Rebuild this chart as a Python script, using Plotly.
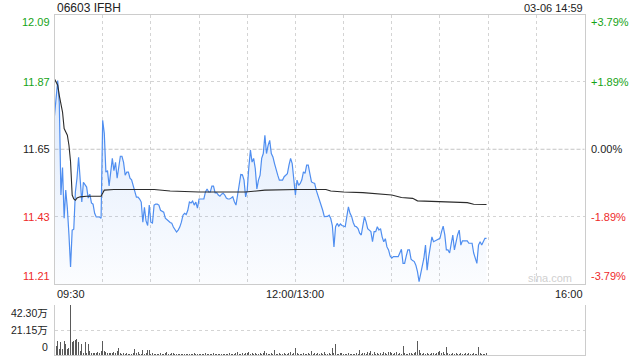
import plotly.graph_objects as go

W, H = 640, 360

# ---------------- data ----------------
title_text = "06603 IFBH"
stamp_text = "03-06 14:59"
prev_close = 11.65
max_pct = 3.79

price_tick_labels = ["12.09", "11.87", "11.65", "11.43", "11.21"]
pct_tick_labels = ["+3.79%", "+1.89%", "0.00%", "-1.89%", "-3.79%"]
pct_tick_values = [3.79, 1.895, 0.0, -1.895, -3.79]
time_tick_labels = ["09:30", "12:00/13:00", "16:00"]
time_tick_minutes = [0, 150, 330]
session_minutes = 330
vol_tick_labels = ["42.30万", "21.15万", "0"]
vol_tick_values = [42.30, 21.15, 0.0]

# one price per trading minute from 09:30 (minute 0) to 14:59 (minute 269)
price = [
    11.76, 11.83, 11.875, 11.80, 11.50, 11.59, 11.424, 11.516, 11.457, 11.37,
    11.264, 11.385, 11.388, 11.51, 11.555, 11.624, 11.542, 11.477, 11.542, 11.532,
    11.526, 11.49, 11.503, 11.474, 11.47, 11.44, 11.428, 11.428, 11.428, 11.424,
    11.745, 11.702, 11.575, 11.58, 11.53, 11.575, 11.62, 11.58, 11.607, 11.555,
    11.60, 11.627, 11.627, 11.607, 11.565, 11.575, 11.575, 11.555, 11.55, 11.53,
    11.505, 11.493, 11.493, 11.487, 11.477, 11.411, 11.46, 11.415, 11.40, 11.467,
    11.411, 11.408, 11.467, 11.47, 11.47, 11.467, 11.45, 11.447, 11.444, 11.424,
    11.418, 11.415, 11.41, 11.408, 11.395, 11.385, 11.379, 11.385, 11.395, 11.411,
    11.434, 11.44, 11.436, 11.45, 11.477, 11.474, 11.48, 11.467, 11.477, 11.457,
    11.487, 11.487, 11.487, 11.487, 11.51, 11.52, 11.51, 11.51, 11.529, 11.529,
    11.507, 11.508, 11.50, 11.496, 11.503, 11.506, 11.50, 11.49, 11.487, 11.487,
    11.49, 11.494, 11.478, 11.467, 11.50, 11.539, 11.567, 11.566, 11.549, 11.494,
    11.516, 11.592, 11.647, 11.608, 11.62, 11.587, 11.52, 11.549, 11.565, 11.62,
    11.636, 11.696, 11.636, 11.663, 11.679, 11.636, 11.625, 11.603, 11.58, 11.565,
    11.549, 11.549, 11.549, 11.56, 11.565, 11.57, 11.598, 11.62, 11.603, 11.538,
    11.50, 11.549, 11.532, 11.538, 11.55, 11.576, 11.571, 11.598, 11.598, 11.57,
    11.543, 11.54, 11.538, 11.515, 11.50, 11.485, 11.47, 11.45, 11.429, 11.429,
    11.43, 11.434, 11.423, 11.40, 11.33, 11.396, 11.407, 11.398, 11.405, 11.40,
    11.398, 11.396, 11.429, 11.461, 11.44, 11.43, 11.41, 11.398, 11.396, 11.39,
    11.375, 11.369, 11.40, 11.429, 11.412, 11.39, 11.385, 11.38, 11.347, 11.38,
    11.38, 11.396, 11.385, 11.39, 11.363, 11.347, 11.357, 11.33, 11.32, 11.30,
    11.293, 11.298, 11.298, 11.298, 11.298, 11.31, 11.322, 11.276, 11.276, 11.30,
    11.32, 11.32, 11.29, 11.285, 11.282, 11.27, 11.249, 11.216, 11.243, 11.27,
    11.293, 11.336, 11.254, 11.298, 11.33, 11.363, 11.347, 11.35, 11.352, 11.355,
    11.358, 11.38, 11.398, 11.37, 11.32, 11.32, 11.31, 11.34, 11.369, 11.32,
    11.347, 11.37, 11.385, 11.336, 11.35, 11.35, 11.35, 11.35, 11.342, 11.342,
    11.342, 11.31, 11.293, 11.276, 11.336, 11.347, 11.336, 11.345, 11.358, 11.358,
]

avg_minutes = [0, 2, 3, 5, 6, 8, 9, 10, 11, 12, 13, 14, 16, 20, 29, 30, 31, 37, 50,
               62, 72, 90, 119, 131, 151, 169, 172, 180, 192, 204, 210, 216, 223,
               226, 241, 257, 261, 269]
avg_price = [11.88, 11.86, 11.826, 11.772, 11.718, 11.696, 11.663, 11.608, 11.50,
             11.487, 11.483, 11.49, 11.494, 11.496, 11.496, 11.505, 11.516, 11.518,
             11.519, 11.518, 11.513, 11.51, 11.51, 11.516, 11.518, 11.518, 11.513,
             11.51, 11.508, 11.503, 11.50, 11.492, 11.489, 11.481, 11.478, 11.475,
             11.47, 11.469]

# volume per minute, in 万 shares
volume_wan = [
    24.0, 7.6, 12.1, 4.8, 11.3, 4.8, 11.8, 9.0, 4.8, 6.0, 42.3,
    10.7, 11.8, 12.7, 13.5, 11.0, 3.0, 9.6, 2.0, 11.0, 2.0,
    9.3, 3.7, 1.4, 1.4, 2.0, 1.4, 2.8, 1.4, 3.7, 12.1,
    3.4, 2.8, 1.4, 1.4, 2.0, 1.4, 2.2, 1.4, 3.0, 6.2,
    1.4, 1.1, 1.4, 0.8, 1.4, 1.1, 0.8, 1.1, 1.4, 5.1,
    1.4, 2.2, 1.1, 0.8, 4.2, 1.1, 1.4, 3.9, 4.2, 1.1,
    1.4, 0.8, 1.1, 0.8, 1.1, 1.4, 0.8, 1.1, 1.4, 2.5,
    1.1, 0.8, 1.4, 1.7, 0.8, 1.1, 0.8, 0.8, 1.1, 0.8,
    1.1, 0.8, 0.8, 1.1, 0.8, 1.1, 1.4, 0.8, 0.8, 1.1,
    0.8, 1.1, 0.8, 1.4, 0.8, 0.8, 1.1, 0.8, 1.4, 0.8,
    1.1, 0.8, 0.8, 1.1, 0.8, 1.1, 0.8, 1.1, 1.4, 0.8,
    1.1, 0.8, 1.4, 2.5, 1.1, 0.8, 1.4, 1.1, 1.7, 1.4,
    2.5, 1.1, 1.7, 0.8, 1.4, 1.1, 0.8, 1.4, 1.1, 2.0,
    3.4, 1.4, 1.1, 0.8, 1.4, 1.1, 4.2, 1.1, 0.8, 1.4,
    0.8, 1.1, 1.4, 0.8, 1.1, 1.4, 2.2, 1.1, 1.4, 5.9,
    1.4, 1.1, 0.8, 1.1, 1.4, 0.8, 1.1, 1.4, 0.8, 3.4,
    1.1, 1.4, 1.1, 1.7, 0.8, 1.4, 1.1, 2.2, 0.8, 1.1,
    1.4, 1.1, 5.6, 1.4, 9.3, 1.1, 0.8, 1.4, 1.7, 1.1,
    0.8, 1.1, 1.4, 0.8, 1.1, 0.8, 1.1, 1.4, 0.8, 4.2,
    1.1, 1.4, 1.7, 1.1, 2.2, 1.4, 3.4, 1.1, 2.8, 0.8,
    1.4, 1.1, 1.7, 1.1, 2.5, 1.4, 1.1, 2.8, 2.8, 1.4,
    1.1, 1.4, 2.2, 1.1, 1.4, 1.1, 7.6, 1.4, 0.8, 1.1,
    1.7, 1.4, 1.1, 1.7, 2.5, 11.8, 4.2, 1.4, 1.1, 1.7,
    1.1, 1.4, 0.8, 1.1, 1.4, 1.7, 1.1, 1.4, 2.2, 3.4,
    1.4, 2.5, 1.1, 6.8, 1.4, 1.1, 0.8, 1.4, 1.1, 1.7,
    1.1, 0.8, 1.4, 1.1, 0.8, 1.7, 1.1, 1.4, 0.8, 1.1,
    1.4, 1.1, 0.8, 6.8, 1.4, 1.1, 0.8, 1.1, 2.0,
]

# ---------------- derived ----------------
price_minutes = list(range(len(price)))
vol_minutes = list(range(len(volume_wan)))
price_ticks = [prev_close * (1 + p / 100.0) for p in pct_tick_values]
y_lo, y_hi = price_ticks[-1], price_ticks[0]

# ---------------- layout helpers (pixel -> paper) ----------------
PX_L, PX_R = 54.5, 584.5
MAIN_T, MAIN_B = 14.5, 284.0
VOL_T, VOL_B = 305.0, 355.0


def px(x):
    return x / W


def py(y):
    return 1 - y / H


FONT = "Liberation Sans, Arial, Noto Sans CJK SC, sans-serif"
GREEN = "#16a316"
RED = "#ee2a2a"
DARK = "#222222"
GRID = "#d4d4d4"
BORDER = "#cccccc"


def tick_color(v):
    if v > 0:
        return GREEN
    if v < 0:
        return RED
    return DARK


fig = go.Figure()

fig.add_trace(go.Scatter(
    x=price_minutes, y=price, mode="lines",
    line=dict(color="#4f8ef0", width=1.2),
    fill="tozeroy",
    fillgradient=dict(type="vertical",
                      colorscale=[[0, "rgba(79,142,240,0.02)"], [1, "rgba(79,142,240,0.17)"]],
                      start=y_lo, stop=11.80),
    hoverinfo="skip", xaxis="x", yaxis="y",
))
fig.add_trace(go.Scatter(
    x=avg_minutes, y=avg_price, mode="lines",
    line=dict(color="#2b2b2b", width=1.1),
    hoverinfo="skip", xaxis="x", yaxis="y",
))
fig.add_trace(go.Bar(
    x=vol_minutes, y=volume_wan, width=0.62,
    marker=dict(color="#5a5a5a", line=dict(width=0)),
    hoverinfo="skip", xaxis="x2", yaxis="y2",
))

annotations = []
# title and time stamp
annotations.append(dict(text=title_text, x=px(PX_L), y=py(7.5), xref="paper", yref="paper",
                        xanchor="left", yanchor="middle", showarrow=False,
                        font=dict(family=FONT, size=12, color=DARK)))
annotations.append(dict(text=stamp_text, x=px(PX_R), y=py(7.5), xref="paper", yref="paper",
                        xanchor="right", yanchor="middle", showarrow=False,
                        font=dict(family=FONT, size=11, color=DARK)))

# price / pct labels
n = len(price_ticks)
for i, (v, lab, plab, pv) in enumerate(zip(price_ticks, price_tick_labels, pct_tick_labels, pct_tick_values)):
    anchor = "top" if i == 0 else ("bottom" if i == n - 1 else "middle")
    col = tick_color(pv)
    annotations.append(dict(text=lab, x=px(52), y=v, xref="paper", yref="y",
                            xanchor="right", yanchor=anchor, showarrow=False,
                            font=dict(family=FONT, size=11, color=col)))
    annotations.append(dict(text=plab, x=px(589), y=v, xref="paper", yref="y",
                            xanchor="left", yanchor=anchor, showarrow=False,
                            font=dict(family=FONT, size=11, color=col)))

# time labels
for t, lab in zip(time_tick_minutes, time_tick_labels):
    if t == 0:
        xa = "left"
    elif t == session_minutes:
        xa = "right"
    else:
        xa = "center"
    annotations.append(dict(text=lab, x=t, y=py(293.5), xref="x", yref="paper",
                            xanchor=xa, yanchor="middle", showarrow=False,
                            font=dict(family=FONT, size=11, color=DARK)))

# volume labels
nv = len(vol_tick_values)
for i, (v, lab) in enumerate(zip(vol_tick_values, vol_tick_labels)):
    anchor = "top" if i == 0 else ("bottom" if i == nv - 1 else "middle")
    annotations.append(dict(text=lab, x=px(50), y=v, xref="paper", yref="y2",
                            xanchor="right", yanchor=anchor, showarrow=False,
                            font=dict(family=FONT, size=10.5, color=DARK)))

# watermark
annotations.append(dict(text="sina.com", x=px(574), y=py(278), xref="paper", yref="paper",
                        xanchor="right", yanchor="middle", showarrow=False,
                        font=dict(family=FONT, size=11, color="#d0d0d0")))

shapes = [dict(type="line", xref="paper", yref="y", x0=px(PX_L), x1=px(PX_R),
               y0=prev_close, y1=prev_close,
               line=dict(color="#c4c4c4", width=1, dash="4px,2px"), layer="below")]

fig.update_layout(
    width=W, height=H,
    margin=dict(l=0, r=0, t=0, b=0),
    paper_bgcolor="white", plot_bgcolor="white",
    showlegend=False, bargap=0,
    annotations=annotations, shapes=shapes,
    xaxis=dict(domain=[px(PX_L), px(PX_R)], range=[0, session_minutes],
               tickvals=list(range(30, session_minutes, 30)), showticklabels=False,
               showgrid=True, gridcolor=GRID, griddash="dot", gridwidth=1,
               showline=True, mirror=True, linecolor=BORDER, linewidth=1,
               zeroline=False, ticks="", anchor="y", fixedrange=True),
    yaxis=dict(domain=[py(MAIN_B), py(MAIN_T)], range=[y_lo, y_hi],
               tickvals=[price_ticks[1], price_ticks[3]], showticklabels=False,
               showgrid=True, gridcolor=GRID, griddash="dot", gridwidth=1,
               showline=True, mirror=True, linecolor=BORDER, linewidth=1,
               zeroline=False, ticks="", anchor="x", fixedrange=True),
    xaxis2=dict(domain=[px(PX_L), px(PX_R)], range=[0, session_minutes],
                showticklabels=False, showgrid=False,
                showline=True, mirror=False, linecolor=BORDER, linewidth=1,
                zeroline=False, ticks="", anchor="y2", fixedrange=True),
    yaxis2=dict(domain=[py(VOL_B), py(VOL_T)], range=[0, vol_tick_values[0]],
                tickvals=[vol_tick_values[0], vol_tick_values[1]], showticklabels=False,
                showgrid=True, gridcolor=GRID, griddash="dot", gridwidth=1,
                showline=True, mirror=True, linecolor=BORDER, linewidth=1,
                zeroline=False, ticks="", anchor="x2", fixedrange=True),
)

fig.write_html("out.html", config={"displayModeBar": False, "staticPlot": True})
